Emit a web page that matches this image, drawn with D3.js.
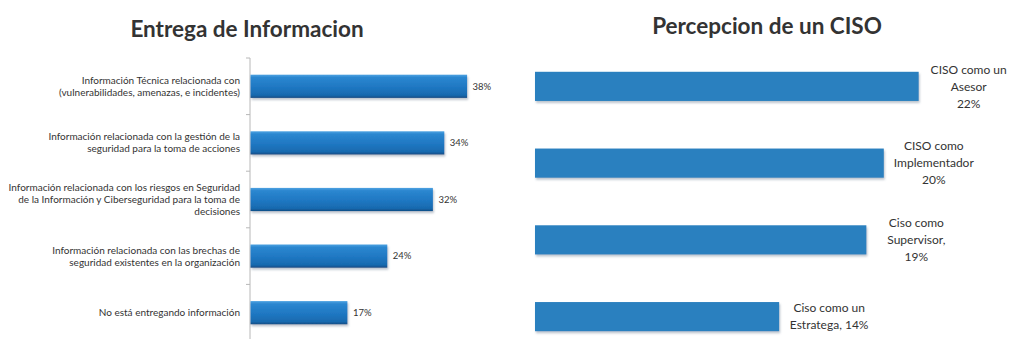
<!DOCTYPE html>
<html>
<head>
<meta charset="utf-8">
<script src="https://cdn.jsdelivr.net/npm/d3@7"></script>
<style>
  html, body { margin: 0; padding: 0; background: #fff; }
  svg { display: block; font-family: Lato, "Open Sans", sans-serif; }
</style>
</head>
<body>
<svg id="chart" width="1009" height="339"></svg>
<script>
// Left panel: what information is being delivered
const infoTitle = "Entrega de Informacion";
const infoCategories = [
  "Información Técnica relacionada con\n(vulnerabilidades, amenazas, e incidentes)",
  "Información relacionada con la gestión de la\nseguridad para la toma de acciones",
  "Información relacionada con los riesgos en Seguridad\nde la Información y Ciberseguridad para la toma de\ndecisiones",
  "Información relacionada con las brechas de\nseguridad existentes en la organización",
  "No está entregando información"
];
const infoValues = [38, 34, 32, 24, 17];

// Right panel: how the CISO is perceived
const cisoTitle = "Percepcion de un CISO";
const cisoLabels = [
  "CISO como un\nAsesor\n22%",
  "CISO como\nImplementador\n20%",
  "Ciso como\nSupervisor,\n19%",
  "Ciso como un\nEstratega, 14%"
];
const cisoValues = [22, 20, 19, 14];

const svg = d3.select("#chart");
const defs = svg.append("defs");

// glossy gradient for the left bars
const g1 = defs.append("linearGradient").attr("id", "gloss").attr("x1", 0).attr("y1", 0).attr("x2", 0).attr("y2", 1);
[[0, "#4ea3e2"], [0.12, "#2b87d0"], [0.55, "#1f77c2"], [0.88, "#186aaf"], [1, "#0f4c85"]]
  .forEach(([o, c]) => g1.append("stop").attr("offset", o).attr("stop-color", c));

const shadow = defs.append("filter").attr("id", "shadow").attr("x", "-5%").attr("y", "-20%").attr("width", "115%").attr("height", "160%");
shadow.append("feDropShadow").attr("dx", 1).attr("dy", 2).attr("stdDeviation", 1.2)
  .attr("flood-color", "#6b7d8f").attr("flood-opacity", 0.45);

const textColor = "#333";

// ---------- left panel ----------
const yL = d3.scaleBand().domain(infoCategories).range([58, 341]).paddingInner(0.59).paddingOuter(0.295);
const xL = d3.scaleLinear().domain([0, 40]).range([250, 478]);

svg.append("text")
  .attr("x", 247).attr("y", 37)
  .attr("text-anchor", "middle")
  .attr("font-size", 22.5).attr("font-weight", 700)
  .attr("fill", textColor)
  .text(infoTitle);

// category axis line with ticks between bands
const stepL = yL.step();
const boundaries = infoCategories.map(c => yL(c) - stepL * yL.paddingInner() / 2).concat([yL(infoCategories[4]) + yL.bandwidth() + stepL * yL.paddingInner() / 2]);
svg.append("line")
  .attr("x1", xL(0)).attr("x2", xL(0))
  .attr("y1", boundaries[0]).attr("y2", boundaries[boundaries.length - 1])
  .attr("stroke", "#b8b8b8").attr("stroke-width", 1);
svg.selectAll(".tickL").data(boundaries).join("line")
  .attr("class", "tickL")
  .attr("x1", xL(0) - 4).attr("x2", xL(0))
  .attr("y1", d => d).attr("y2", d => d)
  .attr("stroke", "#b8b8b8");

svg.selectAll(".barL").data(infoValues).join("rect")
  .attr("class", "barL")
  .attr("x", xL(0) + 0.5)
  .attr("y", (d, i) => yL(infoCategories[i]))
  .attr("width", d => xL(d) - xL(0))
  .attr("height", yL.bandwidth())
  .attr("fill", "url(#gloss)")
  .attr("filter", "url(#shadow)");

svg.selectAll(".valL").data(infoValues).join("text")
  .attr("class", "valL")
  .attr("x", d => xL(d) + 6)
  .attr("y", (d, i) => yL(infoCategories[i]) + yL.bandwidth() / 2)
  .attr("dy", "0.35em")
  .attr("font-size", 9.5)
  .attr("fill", textColor)
  .text(d => d + "%");

const catText = svg.selectAll(".catL").data(infoCategories).join("text")
  .attr("class", "catL")
  .attr("text-anchor", "end")
  .attr("font-size", 10)
  .attr("fill", textColor);
catText.each(function (d) {
  const lines = d.split("\n");
  const lh = 12;
  const cy = yL(d) + yL.bandwidth() / 2;
  const top = cy - (lines.length - 1) * lh / 2;
  d3.select(this).selectAll("tspan").data(lines).join("tspan")
    .attr("x", 240)
    .attr("y", (l, j) => top + j * lh)
    .attr("dy", "0.35em")
    .text(l => l);
});

// ---------- right panel ----------
const yR = d3.scaleBand().domain(d3.range(cisoValues.length)).range([48, 355]).paddingInner(0.62).paddingOuter(0.31);
const xR = d3.scaleLinear().domain([0, 25]).range([535, 971]);

svg.append("text")
  .attr("x", 767).attr("y", 34)
  .attr("text-anchor", "middle")
  .attr("font-size", 22.5).attr("font-weight", 700)
  .attr("fill", textColor)
  .text(cisoTitle);

svg.selectAll(".barR").data(cisoValues).join("rect")
  .attr("class", "barR")
  .attr("x", xR(0))
  .attr("y", (d, i) => yR(i))
  .attr("width", d => xR(d) - xR(0))
  .attr("height", yR.bandwidth())
  .attr("fill", "#2a80bf")
  .attr("filter", "url(#shadow)");

const lblR = svg.selectAll(".lblR").data(cisoValues).join("text")
  .attr("class", "lblR")
  .attr("text-anchor", "middle")
  .attr("font-size", 12)
  .attr("fill", textColor);
lblR.each(function (d, i) {
  const lines = cisoLabels[i].split("\n");
  const lh = 17;
  const cy = yR(i) + yR.bandwidth() / 2;
  const top = cy - (lines.length - 1) * lh / 2;
  d3.select(this).selectAll("tspan").data(lines).join("tspan")
    .attr("x", xR(d) + 50)
    .attr("y", (l, j) => top + j * lh)
    .attr("dy", "0.35em")
    .text(l => l);
});
</script>
</body>
</html>
